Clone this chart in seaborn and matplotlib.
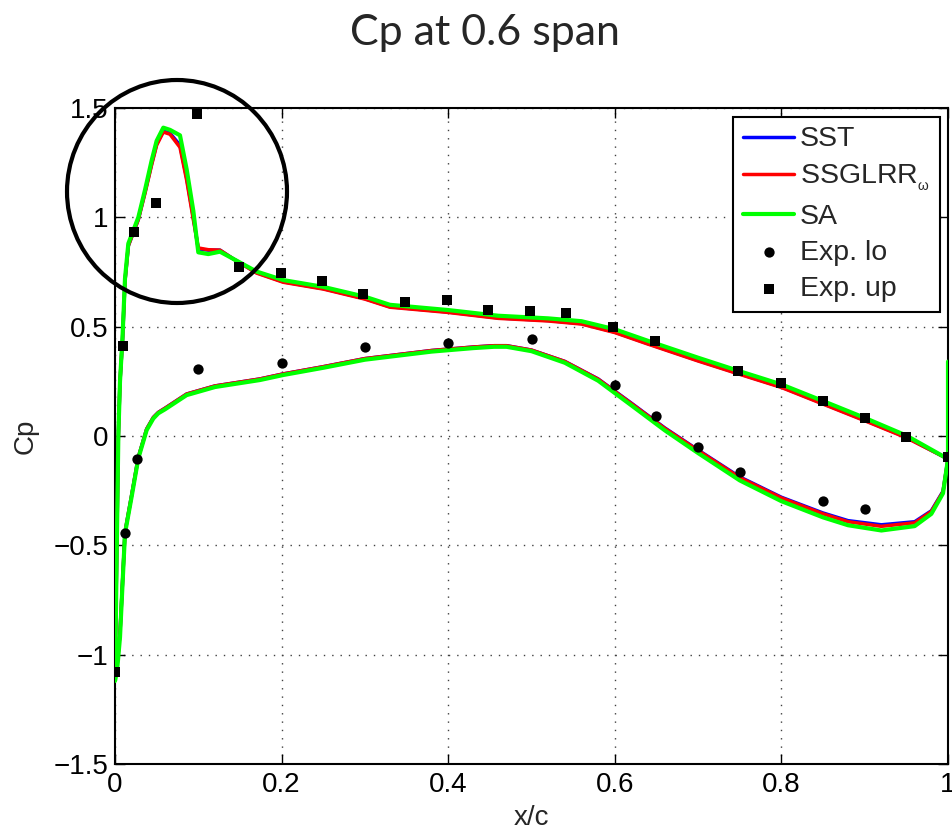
import matplotlib
matplotlib.use('Agg')
import matplotlib.pyplot as plt
import seaborn as sns
from matplotlib.patches import Ellipse

sns.set_style('ticks')
plt.rcParams['font.family'] = ['Liberation Sans', 'DejaVu Sans']
plt.rcParams['mathtext.fontset'] = 'custom'
plt.rcParams['mathtext.rm'] = 'Liberation Sans'
plt.rcParams['mathtext.it'] = 'Liberation Sans'

# upper surface, leading edge -> trailing edge
x_up = [0.000, 0.002, 0.004, 0.006, 0.009, 0.012, 0.016, 0.022, 0.028, 0.036,
        0.044, 0.050, 0.058, 0.066, 0.078, 0.086, 0.094, 0.100, 0.112, 0.126,
        0.142, 0.170, 0.202, 0.250, 0.300, 0.330, 0.400, 0.460, 0.520, 0.560,
        0.600, 0.640, 0.700, 0.750, 0.800, 0.850, 0.900, 0.950, 1.000]
sst_up = [-1.10, -0.55, 0.00, 0.25, 0.44, 0.71, 0.87, 0.93, 0.99, 1.115,
          1.245, 1.335, 1.395, 1.385, 1.33, 1.18, 1.00, 0.855, 0.85, 0.85,
          0.81, 0.747, 0.705, 0.674, 0.628, 0.591, 0.567, 0.540, 0.528, 0.514,
          0.475, 0.422, 0.345, 0.284, 0.224, 0.148, 0.072, -0.006, -0.105]
ssg_up = [-1.10, -0.55, 0.00, 0.25, 0.44, 0.71, 0.87, 0.93, 0.99, 1.11,
          1.24, 1.33, 1.39, 1.38, 1.32, 1.17, 0.99, 0.86, 0.852, 0.85,
          0.81, 0.745, 0.703, 0.672, 0.626, 0.589, 0.565, 0.538, 0.526, 0.512,
          0.473, 0.420, 0.343, 0.282, 0.222, 0.146, 0.070, -0.008, -0.105]
sa_up = [-1.12, -0.55, 0.00, 0.25, 0.45, 0.72, 0.88, 0.94, 1.00, 1.125,
         1.26, 1.35, 1.41, 1.40, 1.375, 1.22, 1.03, 0.84, 0.832, 0.843,
         0.81, 0.752, 0.713, 0.682, 0.637, 0.600, 0.576, 0.550, 0.538, 0.525,
         0.488, 0.435, 0.358, 0.296, 0.236, 0.160, 0.083, 0.002, -0.105]

# lower surface, leading edge -> trailing edge
x_lo = [0.000, 0.003, 0.006, 0.009, 0.012, 0.020, 0.028, 0.038, 0.046, 0.052,
        0.060, 0.086, 0.120, 0.174, 0.202, 0.250, 0.300, 0.380, 0.430, 0.455,
        0.470, 0.500, 0.540, 0.580, 0.620, 0.660, 0.700, 0.750, 0.800, 0.850,
        0.880, 0.920, 0.960, 0.980, 0.994, 1.000]
sst_lo = [-1.10, -1.03, -0.90, -0.67, -0.44, -0.27, -0.097, 0.032, 0.085, 0.108,
          0.127, 0.192, 0.229, 0.261, 0.284, 0.317, 0.354, 0.391, 0.407, 0.413,
          0.413, 0.393, 0.341, 0.261, 0.150, 0.037, -0.064, -0.187, -0.280, -0.352,
          -0.387, -0.406, -0.392, -0.342, -0.253, -0.105]
ssg_lo = [-1.10, -1.03, -0.90, -0.67, -0.44, -0.27, -0.097, 0.032, 0.085, 0.108,
          0.127, 0.192, 0.229, 0.261, 0.284, 0.317, 0.354, 0.391, 0.407, 0.413,
          0.413, 0.393, 0.341, 0.260, 0.148, 0.035, -0.066, -0.190, -0.283, -0.356,
          -0.392, -0.413, -0.397, -0.345, -0.255, -0.105]
sa_lo = [-1.12, -1.05, -0.92, -0.68, -0.445, -0.277, -0.102, 0.027, 0.080, 0.104,
         0.122, 0.187, 0.224, 0.256, 0.279, 0.312, 0.349, 0.386, 0.402, 0.408,
         0.408, 0.388, 0.335, 0.253, 0.140, 0.026, -0.078, -0.203, -0.298, -0.372,
         -0.408, -0.432, -0.412, -0.356, -0.262, -0.105]
sa_te_x = [1.000]
sa_te_cp = [0.34]

# experiment
exp_lo_x = [0.012, 0.027, 0.1, 0.2, 0.3, 0.4, 0.5, 0.6, 0.65, 0.7, 0.75, 0.85, 0.9]
exp_lo_cp = [-0.445, -0.107, 0.305, 0.335, 0.405, 0.424, 0.443, 0.233, 0.092, -0.052,
             -0.163, -0.296, -0.335]
exp_up_x = [0.0, 0.01, 0.023, 0.049, 0.099, 0.149, 0.199, 0.249, 0.298, 0.348, 0.398,
            0.448, 0.498, 0.542, 0.598, 0.648, 0.748, 0.8, 0.85, 0.9, 0.95, 1.0]
exp_up_cp = [-1.078, 0.41, 0.933, 1.064, 1.471, 0.774, 0.744, 0.710, 0.649, 0.611, 0.622,
             0.576, 0.572, 0.564, 0.500, 0.436, 0.299, 0.244, 0.160, 0.081, -0.003, -0.098]

xticks = [0, 0.2, 0.4, 0.6, 0.8, 1.0]
xtick_labels = ['0', '0.2', '0.4', '0.6', '0.8', '1']
yticks = [-1.5, -1.0, -0.5, 0, 0.5, 1.0, 1.5]
ytick_labels = ['\u22121.5', '\u22121', '\u22120.5', '0', '0.5', '1', '1.5']

SSG_LABEL = 'SSGLRR$_{_{\\omega}}$'


def loop(up, lo):
    return up[::-1] + lo[1:]


fig = plt.figure(figsize=(9.52, 8.32), dpi=100)
ax = fig.add_axes([0.1208, 0.0817, 0.8750, 0.7885])

xs = loop(x_up, x_lo)
sns.lineplot(x=xs, y=loop(sst_up, sst_lo), sort=False, estimator=None,
             color='#0000ff', lw=2.5, label='SST', ax=ax, zorder=3)
sns.lineplot(x=xs, y=loop(ssg_up, ssg_lo), sort=False, estimator=None,
             color='#ff0000', lw=2.5, label=SSG_LABEL, ax=ax, zorder=3)
sns.lineplot(x=xs + sa_te_x, y=loop(sa_up, sa_lo) + sa_te_cp, sort=False, estimator=None,
             color='#00ff00', lw=3, label='SA', ax=ax, zorder=3)
sns.scatterplot(x=exp_lo_x, y=exp_lo_cp, marker='o', s=55, color='k', linewidth=0,
                label='Exp. lo', ax=ax, zorder=5)
sns.scatterplot(x=exp_up_x, y=exp_up_cp, marker='s', s=45, color='k', linewidth=0,
                label='Exp. up', ax=ax, zorder=5)

ax.set_xlim(0, 1)
ax.set_ylim(-1.5, 1.5)
ax.set_xticks(xticks)
ax.set_xticklabels(xtick_labels)
ax.set_yticks(yticks)
ax.set_yticklabels(ytick_labels)
ax.tick_params(axis='both', direction='in', top=True, right=True, length=7, width=1,
               labelsize=20, colors='k')
ax.tick_params(axis='x', pad=6)
ax.tick_params(axis='y', pad=5)
ax.grid(True, color='0.25', linestyle=(0, (1, 5)), linewidth=1)
for s in ['left', 'right', 'top', 'bottom']:
    ax.spines[s].set_linewidth(1.5)
    ax.spines[s].set_color('k')

ax.set_xlabel('x/c', fontsize=20)
ax.set_ylabel('Cp', fontsize=20)
ax.xaxis.set_label_coords(0.5, -0.062)
ax.yaxis.set_label_coords(-0.092, 0.5)

h, l = ax.get_legend_handles_labels()
order = ['SST', SSG_LABEL, 'SA', 'Exp. lo', 'Exp. up']
h = [h[l.index(k)] for k in order]
leg = ax.legend(h, order, loc='upper right', bbox_to_anchor=(0.990, 0.987),
                borderaxespad=0, fontsize=20.5, frameon=True, fancybox=False,
                framealpha=1, edgecolor='k', handlelength=1.8, handletextpad=0.2,
                labelspacing=0.36, borderpad=0.35)
leg.get_frame().set_linewidth(1.5)

# highlight circle around suction peak
fig.add_artist(Ellipse((177 / 952, 1 - 191.5 / 832), 220 / 952, 223 / 832,
                       transform=fig.transFigure, fill=False, edgecolor='k', lw=3,
                       clip_on=False, zorder=10))

fig.text(485 / 952, 1 - 33 / 832, 'Cp at 0.6 span', ha='center', va='center',
         fontsize=31, family=['Lato', 'DejaVu Sans'])

fig.savefig('out.png', dpi=100)
